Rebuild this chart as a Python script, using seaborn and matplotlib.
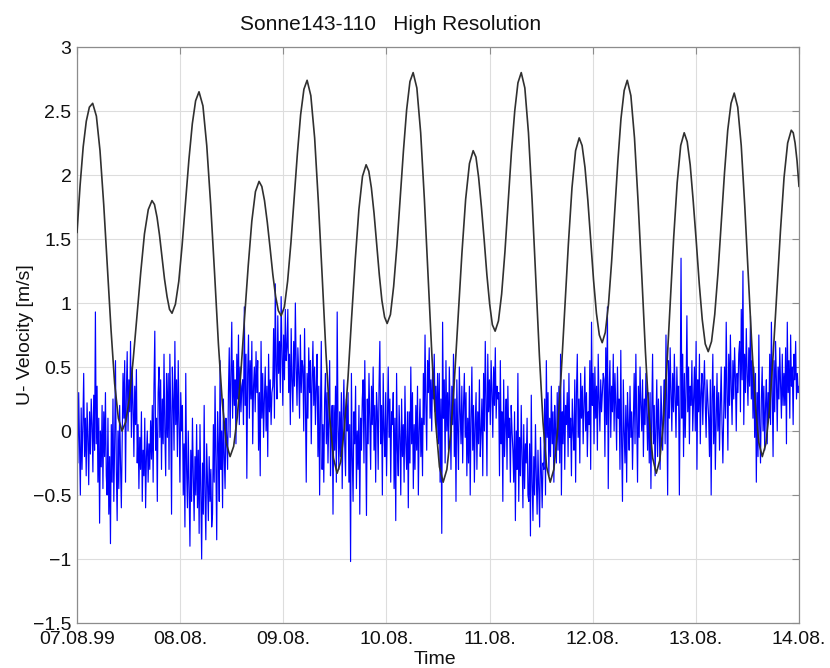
import numpy as np
import pandas as pd
import matplotlib
matplotlib.use("Agg")
import matplotlib.pyplot as plt
import seaborn as sns

# ---------------- data ----------------
title_text = "Sonne143-110   High Resolution"
x_tick_labels = ["07.08.99", "08.08.", "09.08.", "10.08.", "11.08.", "12.08.", "13.08.", "14.08."]
x_ticks = [0, 1, 2, 3, 4, 5, 6, 7]
y_ticks = [-1.5, -1.0, -0.5, 0.0, 0.5, 1.0, 1.5, 2.0, 2.5, 3.0]
y_tick_labels = ["\u22121.5", "\u22121", "\u22120.5", "0", "0.5", "1", "1.5", "2", "2.5", "3"]

# black (tidal) curve: time in days since 07.08.99 and value
tide_t = [0.0, 0.03, 0.06, 0.09, 0.12, 0.152,
          0.188, 0.223, 0.259, 0.294, 0.330, 0.365, 0.401, 0.436,
          0.472, 0.509, 0.545, 0.582, 0.618, 0.654, 0.691, 0.727,
          0.751, 0.776, 0.800, 0.824, 0.848, 0.873, 0.897, 0.921,
          0.954, 0.987, 1.019, 1.052, 1.085, 1.118, 1.150, 1.183,
          1.221, 1.258, 1.296, 1.334, 1.371, 1.409, 1.446, 1.484,
          1.519, 1.554, 1.589, 1.624, 1.660, 1.695, 1.730, 1.765,
          1.792, 1.818, 1.845, 1.872, 1.899, 1.926, 1.952, 1.979,
          2.011, 2.042, 2.074, 2.105, 2.137, 2.168, 2.200, 2.231,
          2.267, 2.304, 2.340, 2.377, 2.413, 2.449, 2.486, 2.522,
          2.557, 2.592, 2.627, 2.662, 2.698, 2.733, 2.768, 2.803,
          2.829, 2.854, 2.880, 2.905, 2.931, 2.956, 2.982, 3.007,
          3.039, 3.070, 3.102, 3.133, 3.165, 3.196, 3.228, 3.259,
          3.295, 3.332, 3.368, 3.405, 3.441, 3.477, 3.514, 3.550,
          3.586, 3.623, 3.659, 3.696, 3.732, 3.768, 3.805, 3.841,
          3.868, 3.894, 3.921, 3.948, 3.974, 4.001, 4.027, 4.054,
          4.086, 4.117, 4.149, 4.181, 4.212, 4.244, 4.275, 4.307,
          4.342, 4.377, 4.412, 4.448, 4.483, 4.518, 4.553, 4.588,
          4.623, 4.658, 4.693, 4.729, 4.764, 4.799, 4.834, 4.869,
          4.897, 4.925, 4.953, 4.981, 5.008, 5.036, 5.064, 5.092,
          5.122, 5.153, 5.183, 5.214, 5.244, 5.274, 5.305, 5.335,
          5.370, 5.405, 5.440, 5.476, 5.511, 5.546, 5.581, 5.616,
          5.650, 5.684, 5.718, 5.752, 5.785, 5.819, 5.853, 5.887,
          5.916, 5.945, 5.974, 6.004, 6.033, 6.062, 6.091, 6.120,
          6.152, 6.183, 6.215, 6.246, 6.278, 6.309, 6.341, 6.372,
          6.406, 6.440, 6.474, 6.508, 6.542, 6.576, 6.610, 6.644,
          6.679, 6.714, 6.749, 6.785, 6.820, 6.855, 6.890, 6.925,
          6.944, 6.962, 6.981, 7.0]
tide_v = [1.55, 1.92, 2.22, 2.42, 2.53, 2.56,
          2.46, 2.19, 1.77, 1.28, 0.79, 0.37, 0.10, 0.00,
          0.07, 0.26, 0.56, 0.90, 1.24, 1.54, 1.73, 1.80,
          1.77, 1.67, 1.53, 1.36, 1.19, 1.05, 0.95, 0.92,
          0.99, 1.17, 1.45, 1.79, 2.12, 2.40, 2.58, 2.65,
          2.54, 2.23, 1.77, 1.23, 0.68, 0.22, -0.09, -0.20,
          -0.12, 0.11, 0.46, 0.88, 1.29, 1.64, 1.87, 1.95,
          1.91, 1.80, 1.63, 1.43, 1.22, 1.05, 0.94, 0.90,
          0.97, 1.17, 1.47, 1.82, 2.17, 2.47, 2.67, 2.74,
          2.62, 2.29, 1.79, 1.21, 0.62, 0.12, -0.21, -0.33,
          -0.24, 0.02, 0.41, 0.88, 1.34, 1.73, 1.99, 2.08,
          2.03, 1.90, 1.70, 1.46, 1.22, 1.02, 0.89, 0.84,
          0.91, 1.13, 1.45, 1.82, 2.19, 2.51, 2.73, 2.80,
          2.68, 2.33, 1.81, 1.20, 0.59, 0.07, -0.28, -0.40,
          -0.30, -0.02, 0.40, 0.90, 1.39, 1.81, 2.09, 2.19,
          2.14, 1.98, 1.75, 1.49, 1.22, 0.99, 0.83, 0.78,
          0.86, 1.07, 1.40, 1.79, 2.18, 2.50, 2.72, 2.80,
          2.68, 2.33, 1.81, 1.20, 0.59, 0.07, -0.28, -0.40,
          -0.30, -0.01, 0.43, 0.95, 1.46, 1.90, 2.19, 2.29,
          2.23, 2.06, 1.80, 1.49, 1.18, 0.92, 0.75, 0.69,
          0.77, 0.99, 1.32, 1.72, 2.11, 2.44, 2.66, 2.74,
          2.62, 2.29, 1.79, 1.21, 0.62, 0.12, -0.21, -0.33,
          -0.23, 0.06, 0.49, 1.00, 1.51, 1.94, 2.23, 2.33,
          2.26, 2.08, 1.80, 1.48, 1.15, 0.87, 0.68, 0.62,
          0.70, 0.91, 1.24, 1.63, 2.02, 2.35, 2.56, 2.64,
          2.53, 2.23, 1.76, 1.22, 0.68, 0.21, -0.09, -0.20,
          -0.10, 0.17, 0.59, 1.08, 1.56, 1.98, 2.25, 2.35,
          2.33, 2.25, 2.11, 1.91]

# blue U-velocity record (m/s), equally spaced in time over the 7 days
u_velocity = [
    0.12, -0.25, 0.30, -0.10, -0.50, 0.18, -0.30, 0.05, 0.45, -0.20, 0.10, -0.35, 0.22, -0.05, -0.42, 0.15, -0.18, 0.25,
    0.05, -0.32, 0.28, -0.15, 0.93, -0.10, 0.35, -0.40, 0.10, -0.72, 0.00, -0.28, 0.20, -0.45, 0.15, -0.20, 0.30, -0.35,
    -0.50, 0.10, -0.65, -0.20, -0.88, 0.05, -0.40, 0.25, -0.55, -0.10, 0.55, -0.30, -0.70, 0.00, -0.45, 0.20, -0.25, -0.60,
    -0.10, 0.45, 0.10, 0.55, -0.40, 0.30, 0.62, 0.00, 0.40, 0.15, 0.70, -0.05, 0.50, 0.20, -0.20, 0.35, 0.05, 0.48,
    -0.25, 0.05, -0.45, -0.05, -0.30, 0.15, -0.55, -0.15, -0.35, 0.10, -0.60, -0.20, 0.00, -0.40, -0.10, -0.30, 0.08, -0.22,
    0.20, -0.40, 0.35, 0.78, -0.15, 0.10, -0.55, 0.30, 0.50, -0.05, 0.40, -0.30, 0.25, -0.10, 0.60, 0.00, -0.35, 0.45,
    -0.05, 0.45, -0.30, 0.60, 0.15, -0.65, 0.50, 0.25, -0.15, 0.70, 0.05, 0.40, -0.20, 0.55, 0.10, -0.40, 0.30, 0.00,
    0.20, -0.50, -0.10, -0.75, 0.45, -0.30, -0.60, 0.00, -0.45, -0.90, -0.15, -0.55, 0.10, -0.35, -0.70, -0.20, -0.50, 0.05,
    -0.60, -0.15, -0.80, 0.05, -0.45, -1.00, -0.25, -0.65, 0.20, -0.50, -0.85, -0.10, -0.40, -0.70, -0.20, -0.55, -0.30, -0.75,
    -0.65, 0.05, -0.40, 0.35, -0.25, -0.85, 0.15, -0.10, -0.55, 0.55, -0.30, 0.00, -0.60, 0.25, -0.20, -0.45, 0.10, -0.05,
    -0.30, 0.30, 0.65, -0.05, 0.45, 0.85, 0.10, 0.55, 0.20, 0.40, -0.10, 0.60, 0.25, 0.75, 0.05, 0.50, 0.15, 0.35,
    0.40, 0.05, 0.97, 0.20, 0.60, -0.37, 0.45, 0.75, 0.10, 0.55, 0.25, 0.70, -0.10, 0.35, 0.50, 0.15, 0.62, 0.30,
    0.55, -0.15, 0.30, -0.35, 0.70, 0.10, 0.45, -0.05, 0.25, 0.50, 0.00, 0.35, -0.20, 0.60, 0.15, 0.40, 0.05, 0.30,
    0.35, 0.80, 0.10, 1.15, 0.50, 0.25, 0.90, 0.45, 0.70, 0.30, 1.05, 0.60, 0.20, 0.75, 0.40, 0.95, 0.55, 0.65,
    0.95, 0.30, 0.60, 0.05, 0.80, 0.40, 0.15, 0.70, 0.35, 1.00, 0.50, 0.20, 0.65, 0.45, 0.10, 0.75, 0.30, 0.55,
    0.50, 0.00, 0.80, 0.25, -0.40, 0.45, 0.10, 0.65, 0.30, 0.55, -0.10, 0.40, 0.70, 0.20, 0.50, 0.05, 0.35, 0.60,
    -0.20, 0.35, -0.50, 0.15, 0.70, -0.30, 0.05, -0.40, 0.25, 0.45, -0.10, 0.30, -0.25, 0.10, 0.55, -0.35, 0.00, 0.20,
    -0.65, 0.20, -0.15, 0.35, -0.40, 0.93, 0.05, -0.30, 0.15, -0.20, 0.30, -0.45, 0.10, 0.40, -0.10, -0.35, 0.25, 0.00,
    0.30, -0.40, 0.05, -1.02, 0.45, -0.20, -0.55, 0.15, -0.10, 0.35, -0.45, 0.00, -0.30, 0.20, -0.65, 0.10, -0.15, 0.25,
    0.40, -0.25, 0.55, 0.00, -0.66, 0.25, -0.10, 0.45, 0.10, -0.30, 0.35, 0.05, 0.50, -0.15, 0.20, -0.40, 0.30, 0.15,
    -0.30, 0.35, 0.70, -0.10, 0.20, -0.50, 0.45, 0.00, -0.20, 0.30, -0.35, 0.10, 0.50, -0.05, 0.25, -0.40, 0.15, 0.05,
    0.30, -0.45, 0.10, -0.70, 0.45, -0.15, -0.35, 0.20, -0.05, -0.50, 0.25, -0.20, 0.05, -0.40, 0.35, -0.10, -0.30, 0.15,
    -0.60, 0.15, -0.25, 0.50, -0.10, 0.30, -0.45, 0.05, -0.30, 0.20, -0.15, 0.35, -0.50, 0.00, 0.25, -0.20, 0.10, -0.35,
    0.45, 0.05, 0.75, 0.20, -0.15, 0.55, 0.30, 0.65, 0.10, 0.40, 0.00, 0.50, 0.25, 0.60, 0.15, 0.35, -0.05, 0.45,
    -0.10, 0.45, -0.40, 0.25, -0.80, 0.85, 0.10, 0.40, -0.25, 0.55, 0.00, 0.30, -0.15, 0.50, 0.20, -0.30, 0.35, 0.05,
    0.60, -0.20, 0.25, -0.55, 0.40, 0.00, -0.30, 0.50, 0.15, -0.10, 0.35, -0.25, 0.20, 0.45, -0.05, 0.30, -0.35, 0.10,
    -0.25, 0.35, -0.50, 0.10, 0.50, -0.15, 0.20, -0.40, 0.05, 0.30, -0.30, 0.15, -0.10, 0.40, -0.20, 0.00, 0.25, -0.35,
    0.45, 0.00, 0.70, 0.25, -0.35, 0.60, 0.15, 0.40, 0.05, 0.55, 0.30, -0.05, 0.50, 0.20, 0.65, 0.10, 0.35, 0.25,
    0.30, -0.35, 0.55, -0.10, 0.15, -0.55, 0.40, -0.20, 0.05, 0.25, -0.30, 0.35, -0.05, 0.10, -0.40, 0.20, 0.00, -0.15,
    -0.40, 0.15, -0.70, 0.00, -0.30, 0.45, -0.55, -0.05, -0.35, 0.20, -0.20, -0.60, 0.05, -0.45, -0.10, -0.25, 0.10, -0.50,
    -0.55, -0.10, -0.82, 0.28, -0.40, -0.70, -0.20, -0.50, 0.05, -0.35, -0.65, -0.15, -0.45, -0.75, -0.05, -0.30, -0.60, -0.25,
    -0.30, 0.25, -0.50, 0.55, -0.05, 0.30, -0.35, 0.10, -0.20, 0.35, -0.10, 0.15, -0.40, 0.20, 0.00, -0.25, 0.30, -0.15,
    0.35, -0.25, 0.60, -0.50, 0.15, -0.10, 0.40, -0.30, 0.20, 0.05, 0.30, -0.20, 0.45, -0.05, 0.10, -0.35, 0.25, 0.00,
    -0.15, 0.40, -0.40, 0.30, 0.60, -0.05, 0.25, -0.25, 0.45, 0.10, 0.35, -0.10, 0.20, 0.50, 0.00, 0.30, -0.20, 0.15,
    0.05, 0.55, -0.30, 0.85, 0.20, 0.45, -0.10, 0.50, 0.10, 0.35, -0.15, 0.60, 0.25, 0.00, 0.40, 0.15, 0.30, 0.45,
    0.40, -0.20, 0.65, 0.05, 0.97, -0.45, 0.30, 0.55, -0.05, 0.35, 0.15, 0.60, 0.00, 0.45, 0.20, -0.15, 0.50, 0.10,
    0.25, -0.30, 0.63, -0.10, -0.55, 0.40, 0.00, -0.25, 0.20, -0.40, 0.30, 0.05, -0.15, 0.35, -0.05, 0.15, -0.30, 0.10,
    0.45, -0.10, 0.60, 0.10, -0.40, 0.35, -0.05, 0.50, 0.20, 0.00, 0.40, -0.20, 0.25, 0.05, 0.45, 0.15, -0.15, 0.30,
    -0.25, 0.30, -0.45, 0.15, 0.60, -0.10, 0.20, -0.35, 0.05, 0.40, -0.20, 0.25, 0.00, -0.30, 0.35, 0.10, -0.15, 0.20,
    0.40, -0.10, 0.75, 0.20, -0.50, 0.55, 0.10, 0.65, 0.30, 0.00, 0.45, 0.15, 0.60, 0.25, -0.05, 0.50, 0.20, 0.35,
    -0.50, 0.30, 1.35, 0.10, 0.60, -0.20, 0.45, -0.05, 0.30, 0.90, 0.15, 0.50, -0.10, 0.35, 0.20, 0.55, 0.00, 0.25,
    0.50, 0.00, 0.70, -0.30, 0.40, 0.15, 0.60, -0.10, 0.30, 0.45, 0.05, 0.35, 0.55, 0.20, -0.05, 0.40, 0.25, 0.10,
    -0.20, 0.40, -0.50, 0.25, 0.60, -0.10, 0.35, -0.30, 0.10, 0.45, 0.00, 0.30, -0.15, 0.20, 0.50, 0.05, -0.25, 0.15,
    0.50, 0.10, 0.85, 0.30, -0.15, 0.60, 0.20, 0.75, 0.35, 0.05, 0.55, 0.25, 0.65, 0.40, 0.00, 0.45, 0.30, 0.60,
    0.70, 0.15, 0.95, 0.40, 1.25, 0.05, 0.60, 0.30, 0.80, 0.45, 0.20, 0.65, 0.35, 0.90, 0.25, 0.55, 0.10, 0.50,
    -0.05, 0.45, -0.40, 0.30, -0.20, 0.75, 0.05, -0.25, 0.25, 0.50, 0.00, 0.35, -0.15, 0.20, 0.40, -0.10, 0.30, 0.10,
    0.60, 0.05, 0.85, 0.30, -0.20, 0.55, 0.15, 0.70, 0.40, 0.00, 0.50, 0.25, 0.65, 0.35, 0.10, 0.60, 0.20, 0.45,
    0.20, 0.65, -0.10, 0.85, 0.30, 0.55, 0.10, 0.75, 0.35, 0.50, 0.05, 0.60, 0.40, 0.70, 0.25, 0.45, 0.30, 0.35,
]

# ---------------- frames ----------------
df_u = pd.DataFrame({"t": np.linspace(0.0, 7.0, len(u_velocity)), "u": u_velocity})
df_tide = pd.DataFrame({"t": tide_t, "v": tide_v})

# ---------------- style ----------------
sns.set_theme(style="white")
plt.rcParams["font.family"] = ["Liberation Sans", "DejaVu Sans"]

fig = plt.figure(figsize=(8.3, 6.68), dpi=100)
fig.patch.set_facecolor("white")
ax = fig.add_axes([77 / 830, 1 - 623 / 668, 722 / 830, 576 / 668])

sns.lineplot(data=df_u, x="t", y="u", ax=ax, color="#0000ff", linewidth=0.85,
             estimator=None, sort=False, zorder=2)
sns.lineplot(data=df_tide, x="t", y="v", ax=ax, color="#303030", linewidth=1.2,
             estimator=None, sort=False, zorder=3)

ax.set_xlim(0, 7)
ax.set_ylim(-1.5, 3)
ax.set_xticks(x_ticks)
ax.set_xticklabels(x_tick_labels)
ax.set_yticks(y_ticks)
ax.set_yticklabels(y_tick_labels)

ax.grid(True, color="#dddddd", linewidth=0.8)
ax.set_axisbelow(True)
for s in ax.spines.values():
    s.set_color("#8c8c8c")
    s.set_linewidth(0.9)
    s.set_visible(True)

ax.tick_params(axis="both", direction="in", length=5, width=0.8, color="#8c8c8c",
               top=True, right=True, labelsize=14, labelcolor="#111111")
ax.tick_params(axis="x", pad=6)
ax.tick_params(axis="y", pad=4)

ax.set_xlabel("Time", fontsize=14, color="#111111")
ax.xaxis.label.set_va("baseline")
ax.xaxis.set_label_coords((435 - 77) / 722, (623 - 664) / 576)
ax.set_ylabel("U- Velocity [m/s]", fontsize=14, color="#111111")
ax.yaxis.set_label_coords((34 - 77) / 722, 0.5)

fig.text(391 / 830, 1 - 24 / 668, title_text, ha="center", va="center",
         fontsize=15, color="#111111")

fig.savefig("out.png", dpi=100, facecolor="white")
